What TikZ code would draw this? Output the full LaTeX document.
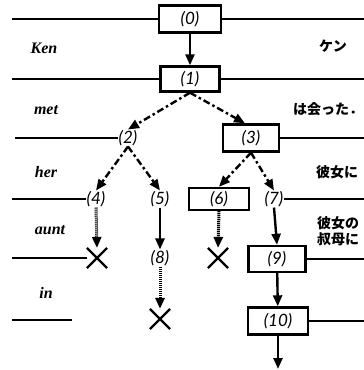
\documentclass[tikz,border=0pt]{standalone}
\usepackage{fontspec}
\usetikzlibrary{arrows.meta,shapes.misc}
\newfontfamily\numfont{Lato}
\newfontfamily\wordfont{Liberation Serif}
\newfontfamily\jpfont{Noto Sans CJK JP}
\begin{document}
\begin{tikzpicture}[x=1pt,y=-1pt,
  num/.style={font=\numfont\itshape\fontsize{17}{17}\selectfont},
  box/.style={num,draw,line width=2.4pt,inner sep=0pt},
  lbl/.style={num,inner sep=0.5pt},
  word/.style={font=\wordfont\bfseries\itshape\fontsize{16}{16}\selectfont},
  jp/.style={font=\jpfont\bfseries\fontsize{14}{16}\selectfont,align=left,inner sep=0pt},
  xmark/.style={cross out,draw,line width=2.2pt,minimum size=18pt,inner sep=0pt},
  rule/.style={line width=1.4pt},
  solidarr/.style={line width=2.4pt,-{Triangle[length=11pt,width=9pt]}},
  dasharr/.style={solidarr,dash pattern=on 7pt off 3pt on 2.5pt off 3pt},
  dotarr/.style={solidarr,line width=3pt,dash pattern=on 1.2pt off 0.8pt},
]
\useasboundingbox (0,0) rectangle (364,370);

% boxes and state labels
\node[box,minimum width=62pt,minimum height=27pt] (n0) at (190,19) {(0)};
\node[box,minimum width=59pt,minimum height=25pt] (n1) at (190,79) {(1)};
\node[lbl] (n2) at (128,138) {(2)};
\node[box,minimum width=56pt,minimum height=27pt] (n3) at (251,138) {(3)};
\node[lbl] (n4) at (96,199) {(4)};
\node[lbl] (n5) at (160,199) {(5)};
\node[box,minimum width=60pt,minimum height=22pt] (n6) at (219,199) {(6)};
\node[lbl] (n7) at (274,199) {(7)};
\node[xmark] (x4) at (97,258) {};
\node[lbl] (n8) at (160,258) {(8)};
\node[xmark] (x6) at (218,258) {};
\node[box,minimum width=57pt,minimum height=26pt] (n9) at (277,259) {(9)};
\node[xmark] (x8) at (160,319) {};
\node[box,minimum width=60pt,minimum height=27pt] (n10) at (278,321) {(10)};
\coordinate (tail) at (278,369);

% English words
\node[word] (wKen) at (44,48) {Ken};
\node[word] (wmet) at (46,110) {met};
\node[word] (wher) at (46,172) {her};
\node[word] (waunt) at (50,230) {aunt};
\node[word] (win) at (46,293) {in};

% Japanese words
\node[jp] (jKen) at (333,46) {ケン};
\node[jp] (jmet) at (328,109) {は会った．};
\node[jp] (jher) at (337,172) {彼女に};
\node[jp] (jaunt) at (338,231) {彼女の\\叔母に};

% horizontal rules
\coordinate (a0) at (12,19);  \coordinate (b0) at (364,19);
\coordinate (a1) at (12,79);  \coordinate (b1) at (364,79);
\coordinate (a2) at (15,138); \coordinate (b2) at (364,138);
\coordinate (a3) at (12,199); \coordinate (b3) at (364,199);
\coordinate (a4) at (12,258); \coordinate (b4) at (364,259);
\coordinate (a5) at (12,320); \coordinate (a5e) at (72,320);
\coordinate (b5) at (364,321);
\draw[rule] (a0) -- (n0) (n0) -- (b0);
\draw[rule] (a1) -- (n1) (n1) -- (b1);
\draw[rule] (a2) -- (n2) (n3) -- (b2);
\draw[rule] (a3) -- (n4) (n7) -- (b3);
\draw[rule] (a4) -- (x4) (n9) -- (b4);
\draw[rule] (a5) -- (a5e) (n10) -- (b5);

% transitions
\draw[solidarr] (n0) -- (n1);
\draw[dasharr] (n1.south) -- (n2.north);
\draw[dasharr] (n1.south) -- ([xshift=-6pt]n3.north);
\draw[dasharr] (n2.south) -- (n4.north);
\draw[dasharr] (n2.south) -- (n5.north);
\draw[dasharr] (n3.south) -- (n6.north);
\draw[dasharr] (n3.south) -- (n7.north);
\draw[dotarr] (n4.south) -- (x4.north);
\draw[solidarr] (n5.south) -- (n8.north);
\draw[dotarr] (n6.south) -- (x6.north);
\draw[solidarr] (n7.south) -- (n9.north);
\draw[dotarr] (n8.south) -- (x8.north);
\draw[solidarr] (n9) -- (n10);
\draw[solidarr] (n10) -- (tail);
\end{tikzpicture}
\end{document}
